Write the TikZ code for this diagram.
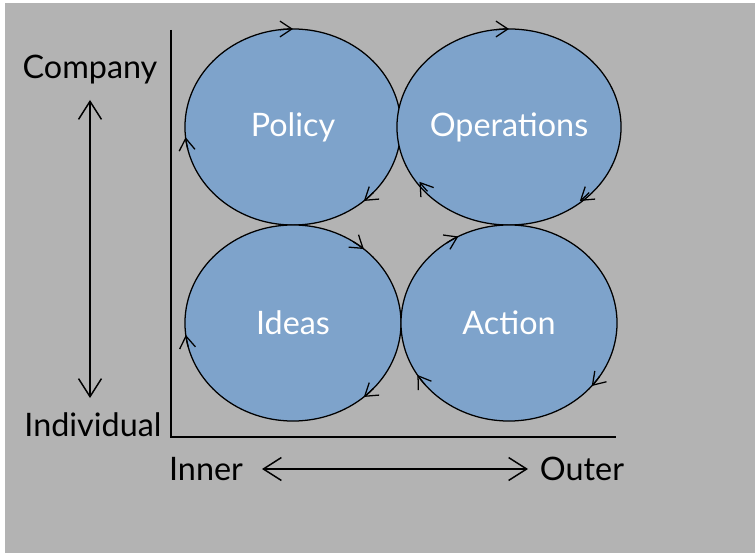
\documentclass[tikz,border=0pt]{standalone}
\usepackage{fontspec}
\setmainfont{Lato}
\usetikzlibrary{arrows.meta,shapes.geometric,calc}
\definecolor{bggray}{RGB}{179,179,179}
\definecolor{loopblue}{RGB}{126,163,203}
\newcommand{\turn}[2]{\draw[cycle] ($(#1)+(#2+7:108 and 98)$) arc[start angle=#2+7, end angle=#2, x radius=108, y radius=98];}

\begin{document}
\begin{tikzpicture}[x=0.025cm, y=0.025cm]
  \tikzstyle{loop}=[draw=black, line width=0.9pt, fill=loopblue, shape=ellipse,
    inner sep=0pt, minimum width=5.4cm, minimum height=4.9cm,
    text=white, font=\fontsize{23}{27}\selectfont]
  \tikzstyle{cycle}=[line width=0.9pt, -{Straight Barb[length=8.5pt,width=11.3pt]}]
  \tikzstyle{axis}=[line width=2.1pt]
  \tikzstyle{both}=[line width=1.05pt, {Straight Barb[length=12.8pt,width=16.3pt]}-{Straight Barb[length=12.8pt,width=16.3pt]}]
  \tikzstyle{lbl}=[inner sep=0pt, font=\fontsize{23}{27}\selectfont]
\useasboundingbox (0,0) rectangle (755,553);
\fill[white] (0,0) rectangle (755,553);
\fill[bggray] (5,0) rectangle (755,550);

\node[loop] (pol) at (293,426) {Policy};
\node[loop] (ops) at (509,426) {Operations};
\node[loop] (ide) at (293,230) {Ideas};
\node[loop] (act) at (509,230) {Action};

\turn{pol}{90} \turn{pol}{186} \turn{pol}{-49}
\turn{ops}{90} \turn{ops}{214} \turn{ops}{-49}
\turn{ide}{49} \turn{ide}{187} \turn{ide}{-49}
\turn{act}{118} \turn{act}{212} \turn{act}{-40}

\coordinate (ytop) at (171,523);
\coordinate (org) at (171,116);
\coordinate (xend) at (616,116);
\draw[axis] (ytop) -- (org) -- (xend);

\node[lbl] (comp) at (90,483) {Company};
\node[lbl] (indiv) at (93,128) {Individual};
\node[lbl] (inner) at (206,84) {Inner};
\node[lbl] (outer) at (582,84) {Outer};
\coordinate (hi) at (90,453);
\coordinate (lo) at (90,155);
\coordinate (lt) at (262,84);
\coordinate (rt) at (528,84);
\draw[both] (hi) -- (lo);
\draw[both] (lt) -- (rt);
\end{tikzpicture}
\end{document}
